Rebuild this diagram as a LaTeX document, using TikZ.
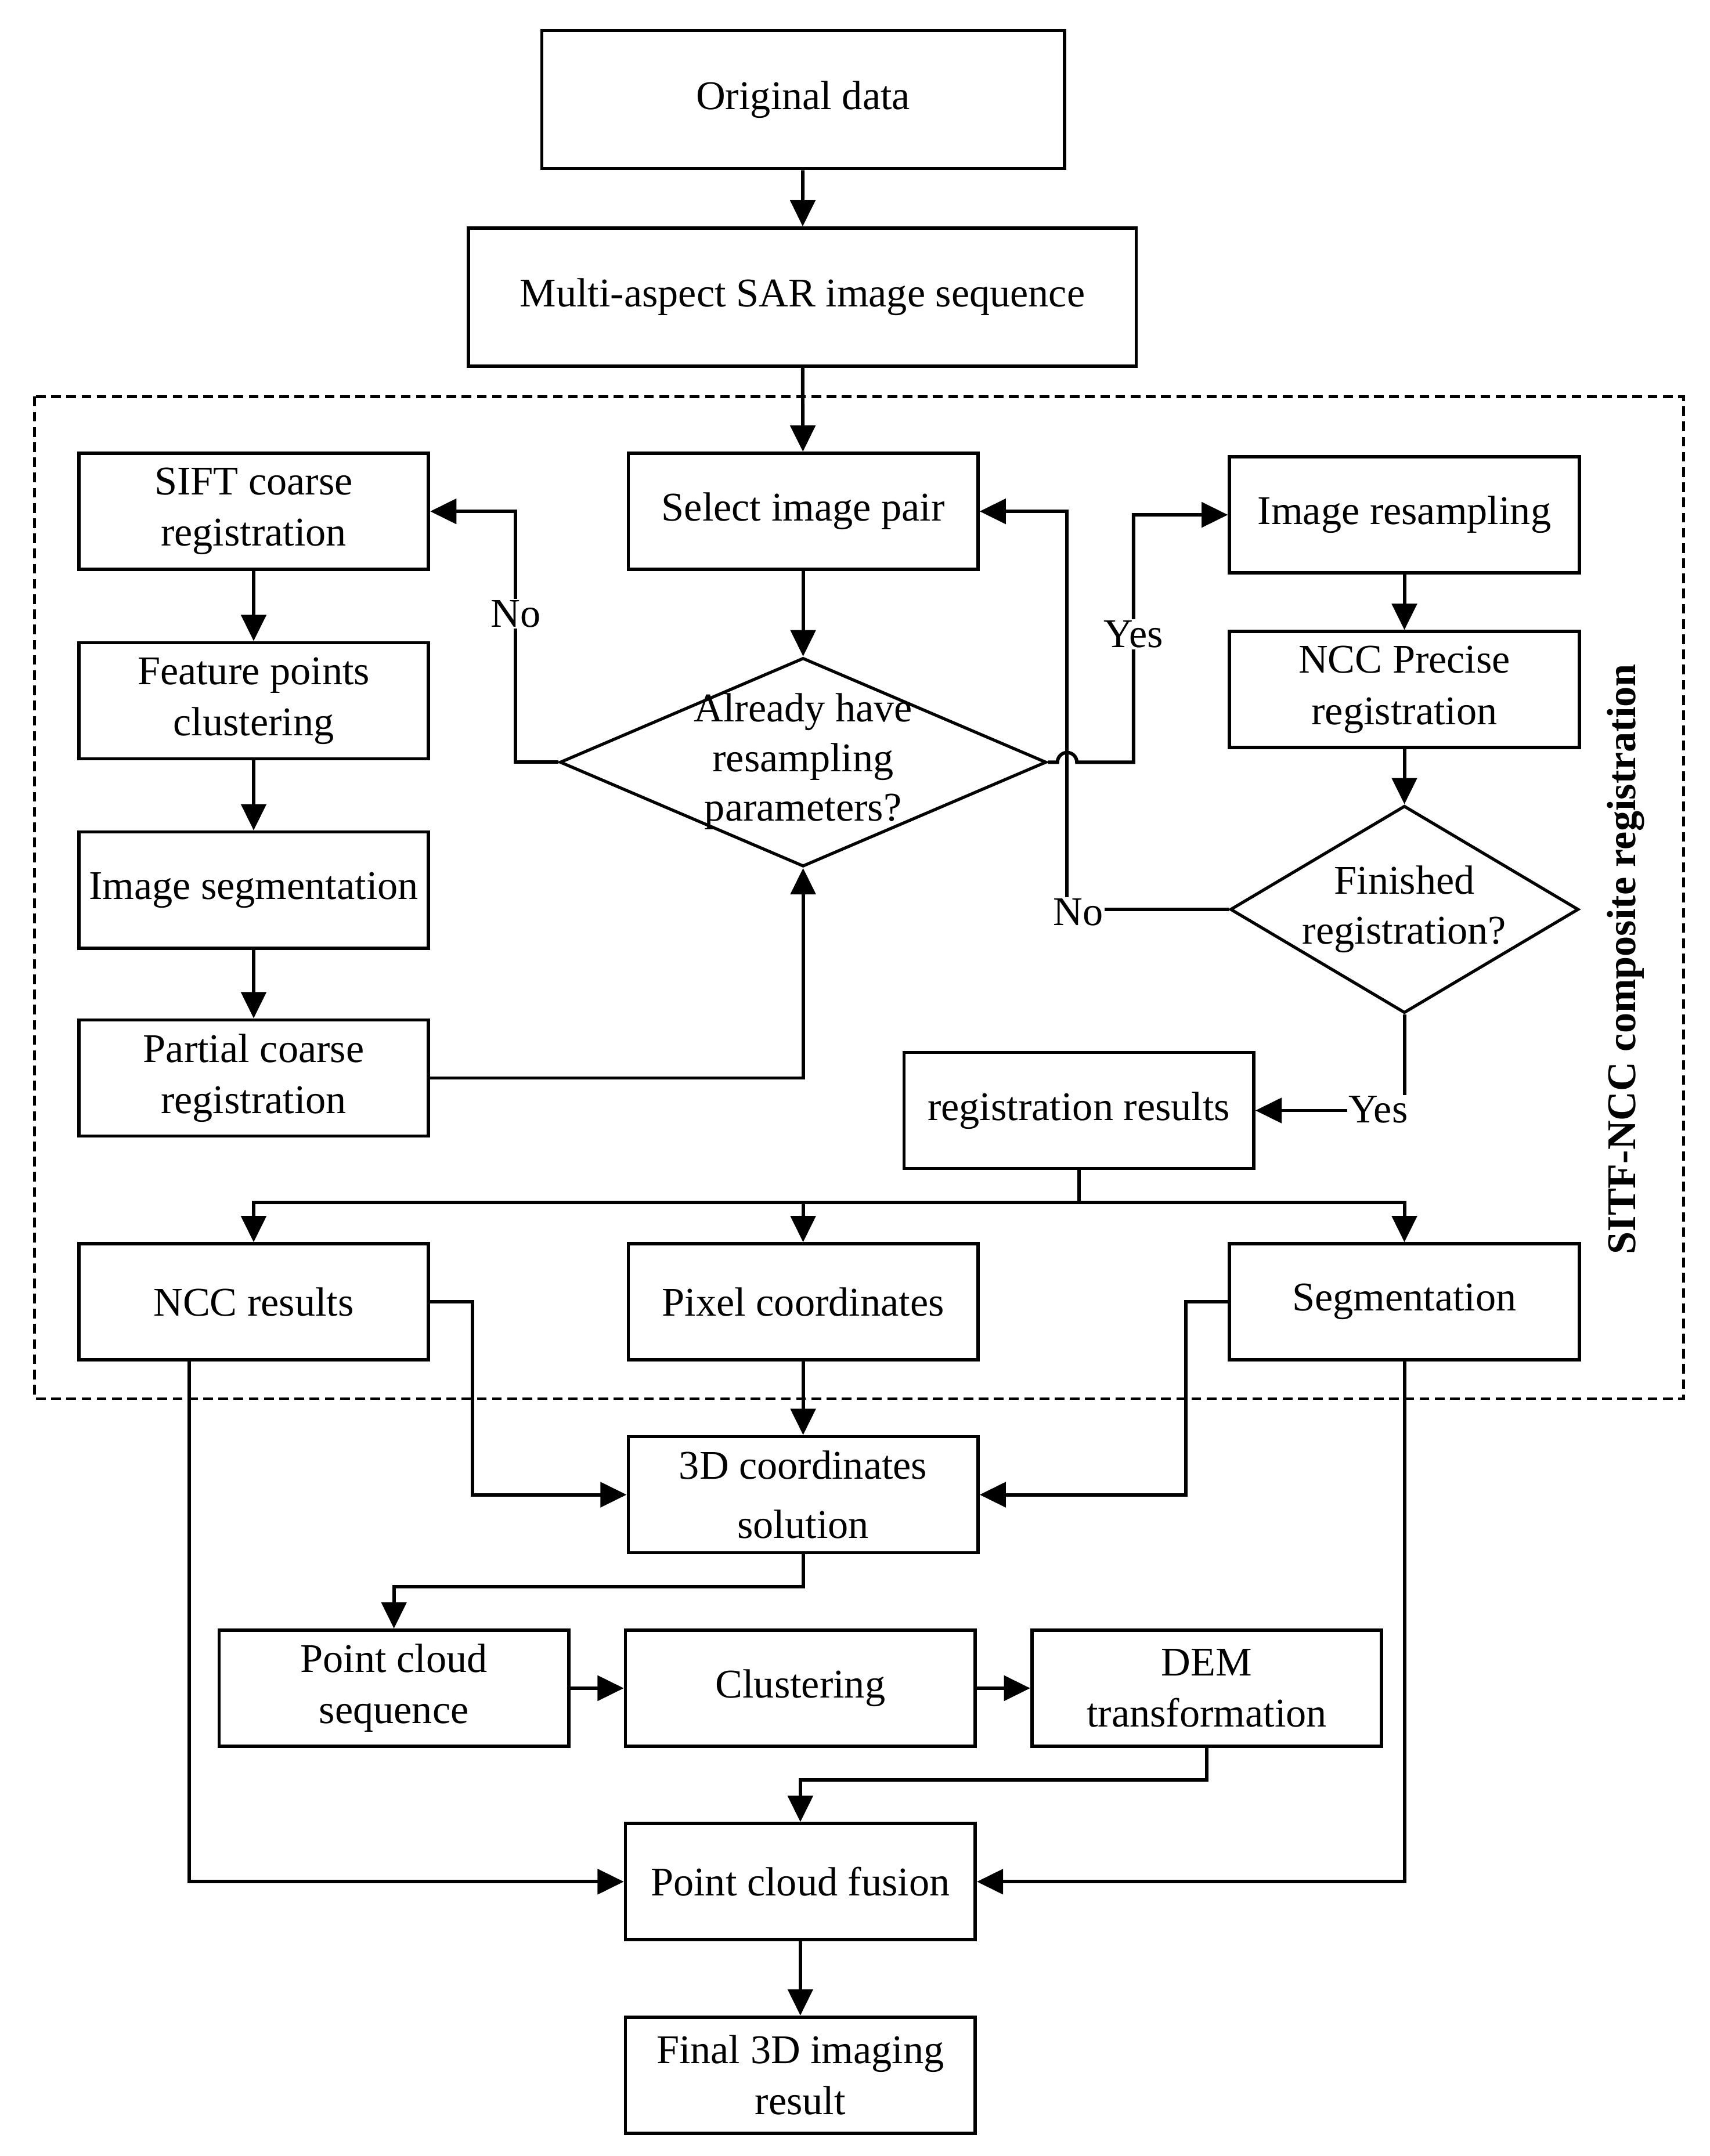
\documentclass[tikz,border=0pt]{standalone}
\usepackage{fontspec}
\setmainfont{Liberation Serif}
\usetikzlibrary{shapes.geometric,arrows.meta}
\begin{document}
\begin{tikzpicture}[x=1pt,y=-1pt,
  box/.style={draw,line width=2.4pt,minimum width=253pt,minimum height=84pt,inner sep=0pt,align=center,font=\fontsize{29.5}{37}\selectfont},
  dia/.style={draw,shape=diamond,line width=2.2pt,inner sep=0pt},
  txt/.style={align=center,inner sep=0pt,font=\fontsize{29.5}{36}\selectfont},
  lab/.style={fill=white,inner sep=1pt,font=\fontsize{29.5}{34}\selectfont},
  conn/.style={line width=2.5pt,-{Triangle[length=19pt,width=18pt]}},
  wire/.style={line width=2.5pt},
  grpbox/.style={line width=1.8pt,dash pattern=on 7pt off 4pt},
]
\useasboundingbox (0,0) rectangle (1237,1560);
\draw[grpbox] (25,287) rectangle (1218,1012);

\node[box,minimum width=378pt,minimum height=100pt] (orig) at (581,72) {Original data};
\node[box,minimum width=483pt,minimum height=100pt] (multi) at (580.5,215) {Multi-aspect SAR image sequence};
\node[box] (sift) at (183.5,370) {SIFT coarse\\registration};
\node[box] (sel) at (581,370) {Select image pair};
\node[box] (resamp) at (1016,372.5) {Image resampling};
\node[box] (feat) at (183.5,507) {Feature points\\clustering};
\node[dia,minimum width=352pt,minimum height=151pt] (q1) at (581,551.5) {};
\node[txt] (q1t) at (581,551) {Already have\\resampling\\parameters?};
\node[box] (seg1) at (183.5,644) {Image segmentation};
\node[box] (ncc) at (1016,499) {NCC Precise\\registration};
\node[dia,minimum width=252pt,minimum height=150pt] (q2) at (1016,658) {};
\node[txt] (q2t) at (1016,658) {Finished\\registration?};
\node[box] (partial) at (183.5,780) {Partial coarse\\registration};
\node[box] (regres) at (780.5,803.5) {registration results};
\node[box] (nccres) at (183.5,942) {NCC results};
\node[box] (pix) at (581,942) {Pixel coordinates};
\node[box] (segm) at (1016,942) {Segmentation};
\node[box,font=\fontsize{29.5}{43}\selectfont] (coord) at (581,1081.5) {3D coordinates\\solution};
\node[box] (pcs) at (285,1221.5) {Point cloud\\sequence};
\node[box] (clus) at (579,1221.5) {Clustering};
\node[box] (dem) at (873,1221.5) {DEM\\transformation};
\node[box] (fus) at (579,1361.5) {Point cloud fusion};
\node[box] (final) at (579,1501.5) {Final 3D imaging\\result};

\node[rotate=90,font=\bfseries\fontsize{29.5}{34}\selectfont] (grp) at (1176,694) {SITF-NCC composite registration};

\draw[conn] (orig) -- (multi);
\draw[conn] (multi) -- (sel);
\draw[conn] (sel) -- (q1);
\draw[conn] (q1.west) -- ++(-31,0) |- (sift.east);
\node[lab] (no1) at (373,444) {No};
\draw[conn] (q1.east) -- (765,551.5) arc[start angle=180,end angle=0,radius=7pt] -- (820,551.5) |- (resamp.west);
\node[lab] (yes1) at (820,459) {Yes};
\draw[conn] (q2.west) -- (772,658) |- (sel.east);
\node[lab] (no2) at (780,660) {No};
\draw[conn] (resamp) -- (ncc);
\draw[conn] (ncc) -- (q2);
\draw[conn] (q2.south) |- (regres.east);
\node[lab] (yes2) at (997,803) {Yes};
\draw[conn] (sift) -- (feat);
\draw[conn] (feat) -- (seg1);
\draw[conn] (seg1) -- (partial);
\draw[conn] (partial.east) -| (q1.south);

\coordinate (bus) at (780.5,870);
\draw[conn] (regres.south) -- (bus) -| (nccres.north);
\draw[conn] (bus) -| (segm.north);
\draw[conn] (pix.north |- bus) -- (pix.north);

\draw[conn] (nccres.east) -- (342,942) |- (coord.west);
\draw[conn] (segm.west) -- (858,942) |- (coord.east);
\draw[conn] (pix) -- (coord);
\draw[conn] (coord.south) -- (581,1148) -| (pcs.north);
\draw[conn] (pcs) -- (clus);
\draw[conn] (clus) -- (dem);
\draw[conn] (dem.south) -- (873,1288) -| (fus.north);
\draw[conn] ([xshift=81pt]nccres.south west) |- (fus.west);
\draw[conn] (segm.south) |- (fus.east);
\draw[conn] (fus) -- (final);
\end{tikzpicture}
\end{document}
